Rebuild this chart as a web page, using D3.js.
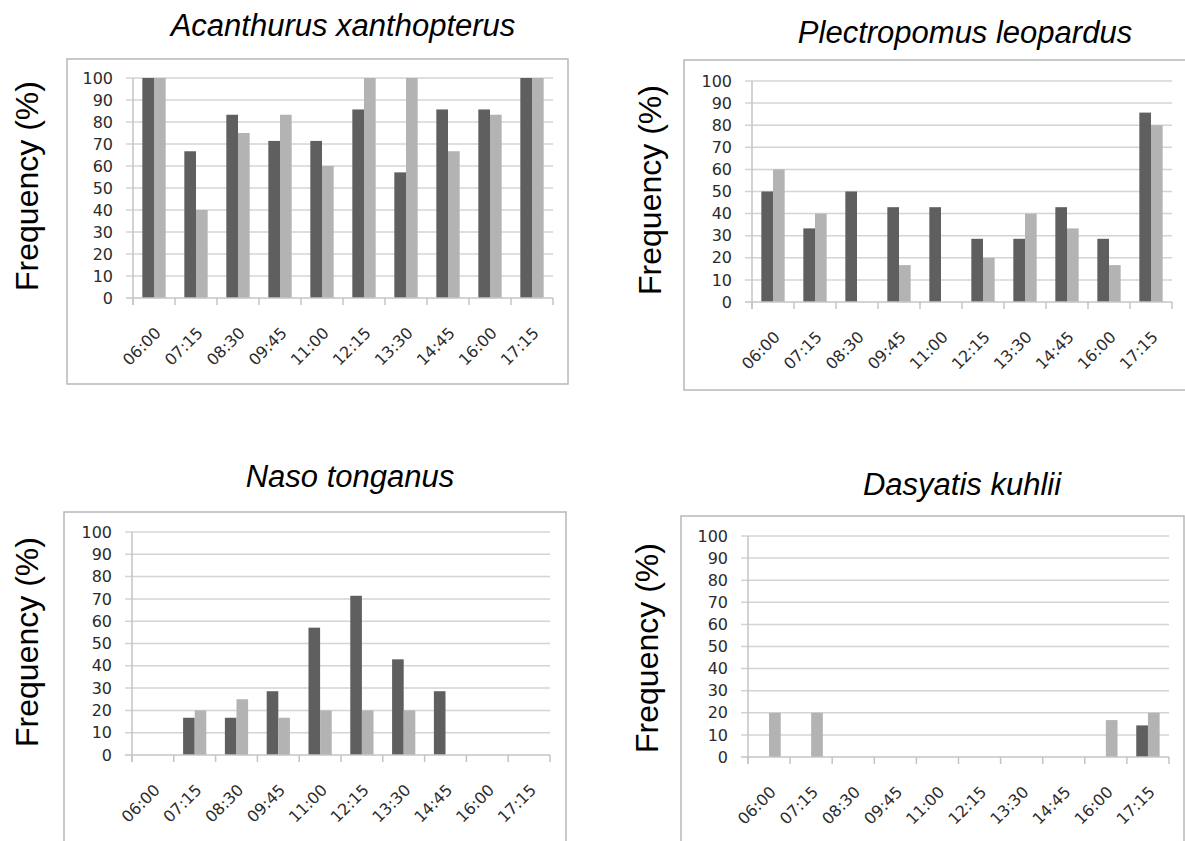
<!DOCTYPE html>
<html>
<head>
<meta charset="utf-8">
<script src="https://cdn.jsdelivr.net/npm/d3@7"></script>
<style>
  body { margin: 0; background: #fff; }
  .tick text { font-family: "DejaVu Sans", sans-serif; font-size: 16px; fill: #2b2b2b; }
  .title { font-family: "Liberation Sans", Arial, sans-serif; font-style: italic; font-size: 31px; fill: #000; }
  .ytitle { font-family: "Liberation Sans", Arial, sans-serif; font-size: 32px; fill: #000; }
</style>
</head>
<body>
<svg id="chart" width="1185" height="841"></svg>
<script>
var times = ["06:00", "07:15", "08:30", "09:45", "11:00", "12:15", "13:30", "14:45", "16:00", "17:15"];
var yTicks = [0, 10, 20, 30, 40, 50, 60, 70, 80, 90, 100];

var acanthurusDark  = [100, 66.7, 83.3, 71.4, 71.4, 85.7, 57.1, 85.7, 85.7, 100];
var acanthurusLight = [100, 40, 75, 83.3, 60, 100, 100, 66.7, 83.3, 100];

var plectropomusDark  = [50, 33.3, 50, 42.9, 42.9, 28.6, 28.6, 42.9, 28.6, 85.7];
var plectropomusLight = [60, 40, 0, 16.7, 0, 20, 40, 33.3, 16.7, 80];

var nasoDark  = [0, 16.7, 16.7, 28.6, 57.1, 71.4, 42.9, 28.6, 0, 0];
var nasoLight = [0, 20, 25, 16.7, 20, 20, 20, 0, 0, 0];

var dasyatisDark  = [0, 0, 0, 0, 0, 0, 0, 0, 0, 14.3];
var dasyatisLight = [20, 20, 0, 0, 0, 0, 0, 0, 16.7, 20];

var darkColor = "#5f5f5f", lightColor = "#b3b3b3";

// layout of the four panels (box, plot area, title and axis-title anchors)
var panels = [
  { title: "Acanthurus xanthopterus", dark: acanthurusDark, light: acanthurusLight,
    box: [67, 59, 568, 384], plot: [133, 78, 553, 298], tx: 343, ty: 36, lx: 38, ly: 186 },
  { title: "Plectropomus leopardus", dark: plectropomusDark, light: plectropomusLight,
    box: [684, 60, 1192, 390], plot: [752, 81, 1172, 302], tx: 965, ty: 43, lx: 661, ly: 190 },
  { title: "Naso tonganus", dark: nasoDark, light: nasoLight,
    box: [64, 512, 566, 860], plot: [132, 532, 550, 755], tx: 350, ty: 487, lx: 38, ly: 642 },
  { title: "Dasyatis kuhlii", dark: dasyatisDark, light: dasyatisLight,
    box: [681, 516, 1184, 860], plot: [748, 536, 1169, 757], tx: 962, ty: 495, lx: 658, ly: 648 }
];

var svg = d3.select("#chart");

panels.forEach(function(p) {
  var g = svg.append("g");
  var x0 = p.plot[0], y0 = p.plot[1], x1 = p.plot[2], y1 = p.plot[3];

  g.append("rect")
    .attr("x", p.box[0]).attr("y", p.box[1])
    .attr("width", p.box[2] - p.box[0]).attr("height", p.box[3] - p.box[1])
    .attr("fill", "none").attr("stroke", "#b8b8b8").attr("stroke-width", 1.5);

  g.append("text").attr("class", "title")
    .attr("x", p.tx).attr("y", p.ty)
    .attr("text-anchor", "middle")
    .text(p.title);

  g.append("text").attr("class", "ytitle")
    .attr("transform", "translate(" + p.lx + "," + p.ly + ") rotate(-90)")
    .attr("text-anchor", "middle")
    .text("Frequency (%)");

  var x = d3.scaleBand().domain(times).range([x0, x1]);
  var inner = d3.scaleBand().domain(["dark", "light"])
    .range([0, x.bandwidth()]).paddingOuter(0.8);
  var y = d3.scaleLinear().domain([0, 100]).range([y1, y0]);

  // gridlines
  g.selectAll(".grid")
    .data(yTicks.filter(function(d) { return d > 0; }))
    .enter().append("line")
      .attr("x1", x0 - 7).attr("x2", x1)
      .attr("y1", function(d) { return y(d); })
      .attr("y2", function(d) { return y(d); })
      .attr("stroke", "#d4d4d4").attr("stroke-width", 1.5);

  // y axis labels
  var ya = g.append("g")
    .attr("transform", "translate(" + x0 + ",0)")
    .call(d3.axisLeft(y).tickValues(yTicks).tickSize(0).tickPadding(20));
  ya.select(".domain").remove();

  // bars
  var series = [
    { key: "dark", values: p.dark, color: darkColor },
    { key: "light", values: p.light, color: lightColor }
  ];
  series.forEach(function(s) {
    g.selectAll(".bar-" + s.key)
      .data(s.values)
      .enter().append("rect")
        .attr("x", function(d, i) { return x(times[i]) + inner(s.key); })
        .attr("y", function(d) { return y(d); })
        .attr("width", inner.bandwidth())
        .attr("height", function(d) { return y1 - y(d); })
        .attr("fill", s.color);
  });

  // axis lines
  g.append("line")
    .attr("x1", x0).attr("x2", x0).attr("y1", y0).attr("y2", y1 + 7)
    .attr("stroke", "#c4c4c4").attr("stroke-width", 1.5);
  g.append("line")
    .attr("x1", x0 - 7).attr("x2", x1).attr("y1", y1).attr("y2", y1)
    .attr("stroke", "#c4c4c4").attr("stroke-width", 1.5);

  // category boundary ticks
  var bounds = times.map(function(t) { return x(t); }).concat([x1]);
  g.selectAll(".xtick")
    .data(bounds)
    .enter().append("line")
      .attr("x1", function(d) { return d; }).attr("x2", function(d) { return d; })
      .attr("y1", y1).attr("y2", y1 + 7)
      .attr("stroke", "#c4c4c4").attr("stroke-width", 1.5);

  // x axis labels
  var xa = g.append("g")
    .attr("transform", "translate(0," + y1 + ")")
    .call(d3.axisBottom(x).tickSize(0).tickPadding(0));
  xa.select(".domain").remove();
  xa.selectAll("text")
    .attr("y", 0).attr("dy", 0)
    .attr("text-anchor", "end")
    .attr("transform", "translate(8,36) rotate(-45)");
});
</script>
</body>
</html>
